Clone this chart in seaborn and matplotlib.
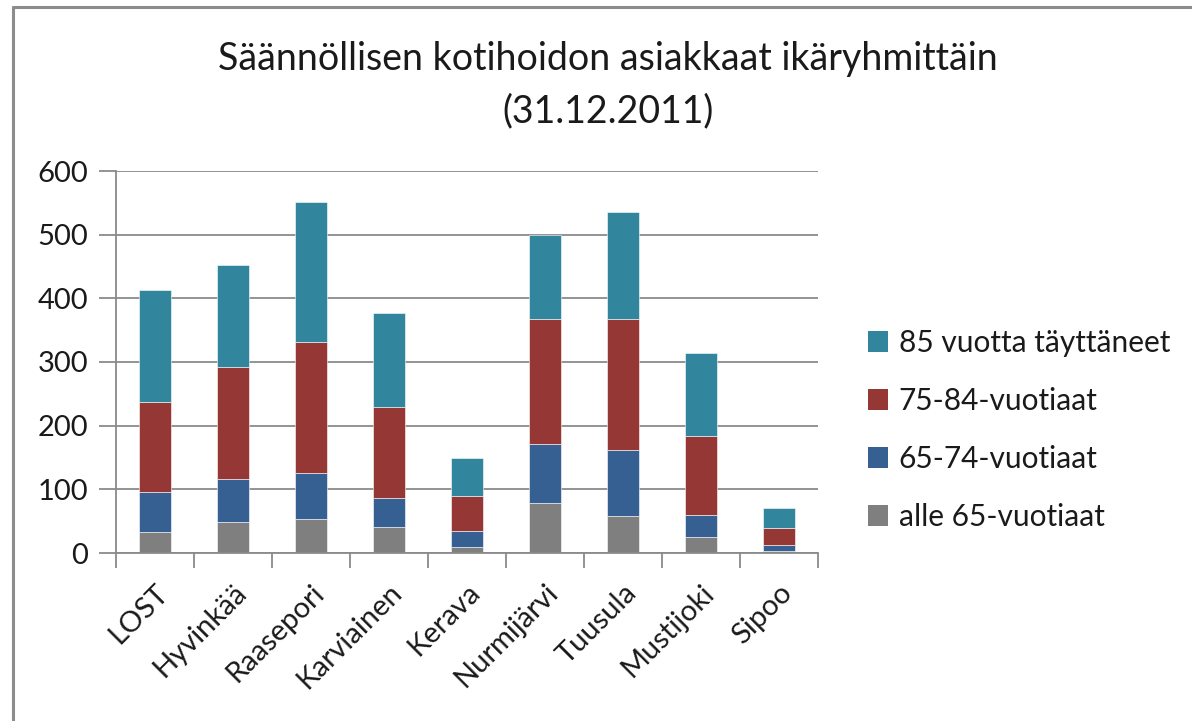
import numpy as np
import pandas as pd
import seaborn as sns
import matplotlib
matplotlib.use("Agg")
import matplotlib.pyplot as plt
from matplotlib.patches import Patch
from matplotlib.lines import Line2D

kunnat = ["LOST", "Hyvinkää", "Raasepori", "Karviainen", "Kerava",
          "Nurmijärvi", "Tuusula", "Mustijoki", "Sipoo"]
alle65 = [33, 48, 53, 41, 10, 78, 58, 25, 3]
v65_74 = [63, 68, 73, 45, 25, 93, 103, 35, 10]
v75_84 = [141, 176, 206, 143, 54, 197, 207, 124, 27]
v85 = [176, 161, 219, 148, 60, 132, 168, 130, 31]

series_names = ["alle 65-vuotiaat", "65-74-vuotiaat", "75-84-vuotiaat", "85 vuotta täyttäneet"]
series_vals = [alle65, v65_74, v75_84, v85]
colors = ["#7F7F7F", "#376092", "#953735", "#31859C"]

sns.set_theme(style="white")
plt.rcParams["font.family"] = ["Lato", "DejaVu Sans"]

fig = plt.figure(figsize=(11.92, 7.21), dpi=100)
ax = fig.add_axes([116/1192, 1-553/721, (818-116)/1192, (553-171)/721])

bottom = np.zeros(len(kunnat))
for name, vals, col in zip(series_names, series_vals, colors):
    df = pd.DataFrame({"kunta": kunnat, "arvo": vals})
    sns.barplot(data=df, x="kunta", y="arvo", color=col, width=0.4,
                bottom=bottom.copy(), ax=ax, edgecolor="white", linewidth=0.4,
                saturation=1)
    bottom += np.array(vals)

ax.set_xlim(-0.5, len(kunnat) - 0.5)
ax.set_ylim(0, 600)
ax.set_yticks(range(0, 601, 100))
ax.yaxis.grid(True, color="#8a8a8a", linewidth=1.3)
ax.set_axisbelow(True)
ax.set_xlabel("")
ax.set_ylabel("")
for s in ["top", "right"]:
    ax.spines[s].set_visible(False)
for s in ["left", "bottom"]:
    ax.spines[s].set_color("#8a8a8a")
    ax.spines[s].set_linewidth(1.3)

ax.tick_params(axis="y", which="major", length=12, width=1.3, color="#8a8a8a",
               labelsize=21, labelcolor="#1a1a1a", pad=8, left=True)
ax.set_xticks(np.arange(len(kunnat)))
ax.set_xticklabels(kunnat, rotation=45, ha="right", rotation_mode="anchor",
                   fontsize=21, color="#1a1a1a")
ax.tick_params(axis="x", which="major", length=0, pad=19, bottom=True)
ax.set_xticks(np.arange(len(kunnat) + 1) - 0.5, minor=True)
ax.tick_params(axis="x", which="minor", length=11, width=1.3, color="#8a8a8a", bottom=True)

fig.text(608/1192, 1-59/721, "Säännöllisen kotihoidon asiakkaat ikäryhmittäin",
         ha="center", va="center", fontsize=27, color="#1a1a1a")
fig.text(608/1192, 1-111/721, "(31.12.2011)",
         ha="center", va="center", fontsize=27, color="#1a1a1a")

handles = [Patch(facecolor=c, edgecolor="none") for c in colors[::-1]]
fig.legend(handles, series_names[::-1], loc="center left",
           bbox_to_anchor=(841/1192, 1-430/721), frameon=False, fontsize=21.5,
           labelspacing=1.0, handlelength=0.68, handleheight=0.68,
           handletextpad=0.35, labelcolor="#1a1a1a")

fig.add_artist(Line2D([13/1192, 13/1192], [0, 1-7/721], color="#8c8c8c", linewidth=2.2))
fig.add_artist(Line2D([13/1192, 1], [1-7/721, 1-7/721], color="#8c8c8c", linewidth=2.2))

fig.savefig("out.png", dpi=100)
